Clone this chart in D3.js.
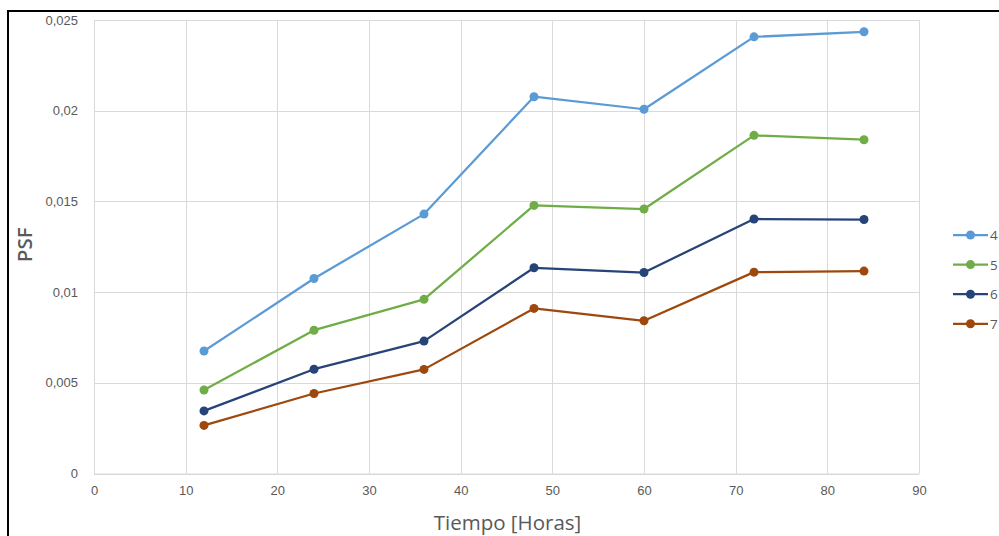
<!DOCTYPE html>
<html>
<head>
<meta charset="utf-8">
<script src="https://cdn.jsdelivr.net/npm/d3@7"></script>
<style>
  html, body { margin: 0; padding: 0; background: #fff; }
  svg { display: block; font-family: "Open Sans", "Segoe UI", sans-serif; }
</style>
</head>
<body>
<svg id="chart" width="999" height="536"></svg>
<script>
// Tiempo (horas) en el eje X
const horas = [12, 24, 36, 48, 60, 72, 84];

// Series de PSF
const seriesNames = ["4", "5", "6", "7"];
const psf4 = [0.00675, 0.01075, 0.01430, 0.02077, 0.02008, 0.02407, 0.02435];
const psf5 = [0.00460, 0.00790, 0.00960, 0.01478, 0.01458, 0.01864, 0.01840];
const psf6 = [0.00345, 0.00575, 0.00730, 0.01134, 0.01108, 0.01403, 0.01400];
const psf7 = [0.00265, 0.00441, 0.00574, 0.00910, 0.00842, 0.01110, 0.01116];
const seriesColors = ["#5B9BD5", "#70AD47", "#264478", "#9E480E"];

const xTicks = [0, 10, 20, 30, 40, 50, 60, 70, 80, 90];
const yTicks = [0, 0.005, 0.01, 0.015, 0.02, 0.025];

const svg = d3.select("#chart");

// Marco exterior
svg.append("rect")
  .attr("x", 8).attr("y", 11)
  .attr("width", 1100).attr("height", 600)
  .attr("fill", "none").attr("stroke", "#000").attr("stroke-width", 2);

const plot = { left: 94, right: 919, top: 20, bottom: 473.5 };

const x = d3.scaleLinear().domain([0, 90]).range([plot.left, plot.right]);
const y = d3.scaleLinear().domain([0, 0.025]).range([plot.bottom, plot.top]);

const fmt = v => v === 0 ? "0" : String(+v.toFixed(3)).replace(".", ",");

// Rejilla
const grid = svg.append("g");
grid.selectAll("line.v").data(xTicks).join("line")
  .attr("x1", d => Math.round(x(d)) + 0.5).attr("x2", d => Math.round(x(d)) + 0.5)
  .attr("y1", plot.top).attr("y2", plot.bottom)
  .attr("stroke", "#d9d9d9").attr("stroke-width", 1);
grid.selectAll("line.h").data(yTicks).join("line")
  .attr("x1", plot.left).attr("x2", plot.right)
  .attr("y1", d => Math.round(y(d)) + 0.5).attr("y2", d => Math.round(y(d)) + 0.5)
  .attr("stroke", "#d9d9d9").attr("stroke-width", 1);

// Ejes
const xAxis = svg.append("g")
  .attr("transform", `translate(0,${plot.bottom})`)
  .call(d3.axisBottom(x).tickValues(xTicks).tickSize(0).tickPadding(12).tickFormat(d => d));
xAxis.select(".domain").attr("stroke", "#d9d9d9");
xAxis.selectAll("text").attr("fill", "#595959").attr("font-size", 13);

const yAxis = svg.append("g")
  .attr("transform", `translate(${plot.left},0)`)
  .call(d3.axisLeft(y).tickValues(yTicks).tickSize(0).tickPadding(16).tickFormat(fmt));
yAxis.select(".domain").attr("stroke", "#d9d9d9");
yAxis.selectAll("text").attr("fill", "#595959").attr("font-size", 13);

// Títulos de ejes
svg.append("text")
  .attr("x", (plot.left + plot.right) / 2 + 1).attr("y", 530)
  .attr("text-anchor", "middle").attr("fill", "#595959")
  .attr("font-size", 20.5).text("Tiempo [Horas]");
svg.append("text")
  .attr("transform", `translate(32,${(plot.top + plot.bottom) / 2 - 2}) rotate(-90)`)
  .attr("text-anchor", "middle").attr("fill", "#595959")
  .attr("font-size", 20.5).attr("font-weight", 600).text("PSF");

// Líneas y marcadores
const allSeries = [psf4, psf5, psf6, psf7];
const line = d3.line().x((d, i) => x(horas[i])).y(d => y(d));
allSeries.forEach((vals, s) => {
  const g = svg.append("g");
  g.append("path").datum(vals)
    .attr("d", line).attr("fill", "none")
    .attr("stroke", seriesColors[s]).attr("stroke-width", 2.25)
    .attr("stroke-linejoin", "round");
  g.selectAll("circle").data(vals).join("circle")
    .attr("cx", (d, i) => x(horas[i])).attr("cy", d => y(d))
    .attr("r", 4.5).attr("fill", seriesColors[s]);
});

// Leyenda
const legend = svg.append("g");
seriesNames.forEach((name, s) => {
  const ly = 235 + s * 29.6;
  legend.append("line")
    .attr("x1", 953).attr("x2", 988).attr("y1", ly).attr("y2", ly)
    .attr("stroke", seriesColors[s]).attr("stroke-width", 2.25);
  legend.append("circle").attr("cx", 970.5).attr("cy", ly).attr("r", 4.5)
    .attr("fill", seriesColors[s]);
  legend.append("text").attr("x", 990).attr("y", ly + 5)
    .attr("fill", "#595959").attr("font-size", 13.5).text(name);
});
</script>
</body>
</html>
